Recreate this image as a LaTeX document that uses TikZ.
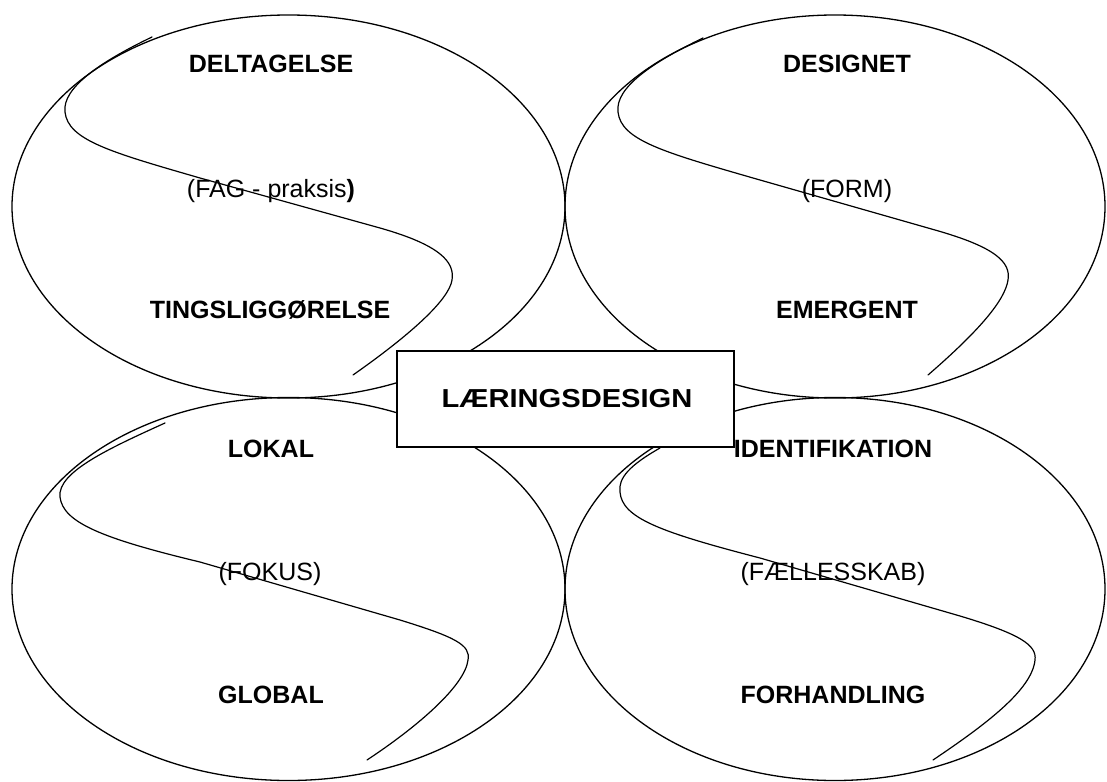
\documentclass[tikz,border=0pt]{standalone}
\usepackage{fontspec}
\setmainfont{Liberation Sans}
\usetikzlibrary{shapes.geometric}
\tikzset{
  circ/.style={ellipse, draw, line width=1.3pt, inner sep=0pt, minimum width=#1, minimum height=383pt},
  scurve/.style={line width=1.2pt, line cap=round},
  lab/.style={anchor=base, inner sep=0pt, font=\fontsize{25}{28}\selectfont\bfseries},
  sub/.style={anchor=base, inner sep=0pt, font=\fontsize{25}{28}\selectfont},
  centerbox/.style={draw, fill=white, line width=1.4pt, minimum width=337pt, minimum height=96pt, inner sep=0pt}
}
\begin{document}
\begin{tikzpicture}[x=1pt,y=-1pt]
\useasboundingbox (0,0) rectangle (1107,781);
% ellipses
\node[circ=553pt] (tl) at (288.5,206.5) {};
\node[circ=540pt] (tr) at (835,206.5) {};
\node[circ=553pt] (bl) at (288.5,589) {};
\node[circ=540pt] (br) at (835,589) {};
% S-curves
\draw[scurve] (152,37) .. controls (100,62) and (62,88) .. (65,112)
  .. controls (68,140) and (110,152) .. (200,178) -- (380,228)
  .. controls (440,245) and (455,262) .. (452,280)
  .. controls (449,300) and (410,335) .. (353,375);
\draw[scurve] (703,38) .. controls (651,63) and (615,88) .. (618,112)
  .. controls (621,140) and (663,152) .. (753,178) -- (935,230)
  .. controls (995,247) and (1011,262) .. (1008,280)
  .. controls (1005,300) and (980,330) .. (928,375);
\draw[scurve] (165,423) .. controls (110,448) and (57,472) .. (60,497)
  .. controls (63,522) and (100,538) .. (200,562) -- (400,620)
  .. controls (455,637) and (471,645) .. (468,660)
  .. controls (465,685) and (420,725) .. (367,760);
\draw[scurve] (660,448) .. controls (630,465) and (618,478) .. (620,492)
  .. controls (622,518) and (660,532) .. (760,558) -- (960,616)
  .. controls (1020,634) and (1037,645) .. (1035,660)
  .. controls (1032,690) and (985,725) .. (933,760);
% labels
\node[lab] (t1) at (271,73) {DELTAGELSE};
\node[sub] (t2) at (271,197) {(FAG - praksis\textbf{)}};
\node[lab] (t3) at (270,318) {TINGSLIGGØRELSE};
\node[lab] (t4) at (847,73) {DESIGNET};
\node[sub] (t5) at (847,197) {(FORM)};
\node[lab] (t6) at (847,318) {EMERGENT};
\node[lab] (t7) at (271,457) {LOKAL};
\node[sub] (t8) at (270,580) {(FOKUS)};
\node[lab] (t9) at (271,703) {GLOBAL};
\node[lab] (t10) at (833,457) {IDENTIFIKATION};
\node[sub] (t11) at (833,580) {(FÆLLESSKAB)};
\node[lab] (t12) at (833,703) {FORHANDLING};
% center box
\node[centerbox] (box) at (565.5,399) {};
\node[anchor=base, inner sep=0pt, font=\fontsize{26}{28}\selectfont\bfseries] (title) at (567,407) {\scalebox{1.12}[1]{LÆRINGSDESIGN}};
\end{tikzpicture}
\end{document}
